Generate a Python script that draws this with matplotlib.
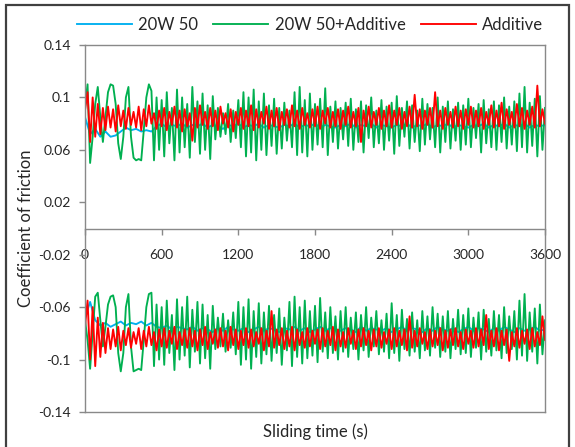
"""Coefficient of friction vs sliding time, 20W 50 oil with and without additive."""

import matplotlib

matplotlib.use("Agg")
import matplotlib.pyplot as plt
import numpy as np
from matplotlib.patches import Rectangle

plt.rcParams["font.family"] = ["Lato", "DejaVu Sans"]

BLUE = "#00b0f0"
GREEN = "#00b050"
RED = "#ff0000"
FRAME = "#898989"
INK = "#262626"

STEP_FINE = 20    # s between samples, green and red series
STEP_COARSE = 40  # s between samples, blue series

SERIES_NAMES = ["20W 50", "20W 50+Additive", "Additive"]
X_TICKS = [0, 600, 1200, 1800, 2400, 3000, 3600]
Y_TICKS = [0.14, 0.10, 0.06, 0.02, -0.02, -0.06, -0.10, -0.14]
Y_TICK_LABELS = ["0.14", "0.1", "0.06", "0.02", "-0.02", "-0.06", "-0.1", "-0.14"]

# upper (positive) traces
GREEN_TOP = [
    .093, .110, .050, .070, .095, .108, .085, .066, .085, .104,
    .110, .109, .095, .065, .053, .070, .100, .108, .070, .054,
    .052, .053, .052, .075, .100, .110, .105, .052, .100, .060,
    .098, .055, .104, .065, .092, .052, .106, .058, .100, .062,
    .095, .054, .108, .066, .097, .057, .103, .060, .094, .053,
    .101, .068, .092, .070, .088, .072, .095, .066, .090, .069,
    .098, .062, .104, .055, .100, .058, .106, .052, .097, .060,
    .103, .056, .094, .063, .099, .057, .092, .061, .096, .067,
    .090, .062, .104, .056, .108, .058, .098, .055, .103, .060,
    .095, .064, .099, .062, .107, .056, .093, .066, .097, .061,
    .092, .068, .096, .063, .099, .060, .091, .066, .097, .058,
    .094, .069, .100, .062, .090, .065, .098, .060, .093, .067,
    .096, .057, .101, .063, .092, .070, .097, .061, .094, .066,
    .090, .059, .099, .064, .095, .068, .092, .062, .100, .058,
    .093, .066, .097, .061, .091, .067, .096, .060, .094, .064,
    .099, .062, .092, .069, .095, .058, .098, .065, .091, .062,
    .097, .060, .094, .066, .100, .061, .093, .064, .097, .059,
    .103, .062, .108, .058, .096, .063, .099, .055, .101, .060,
    .092,
]
RED_TOP = [
    .090, .104, .066, .100, .070, .095, .072, .092, .075, .093,
    .077, .091, .074, .094, .078, .090, .076, .092, .079, .089,
    .077, .093, .075, .091, .078, .094, .080, .088, .076, .090,
    .078, .092, .075, .089, .079, .093, .077, .090, .074, .091,
    .078, .088, .067, .092, .077, .094, .079, .089, .076, .092,
    .078, .090, .075, .093, .080, .088, .077, .091, .074, .089,
    .079, .092, .076, .090, .078, .094, .075, .091, .077, .089,
    .080, .093, .076, .090, .078, .092, .075, .089, .079, .091,
    .077, .094, .078, .090, .076, .092, .079, .088, .077, .091,
    .078, .093, .076, .090, .080, .092, .077, .089, .078, .091,
    .076, .090, .079, .093, .077, .089, .078, .092, .066, .090,
    .078, .093, .077, .089, .079, .092, .076, .090, .078, .094,
    .077, .090, .079, .092, .076, .089, .078, .093, .077, .102,
    .078, .091, .076, .090, .079, .092, .077, .104, .078, .090,
    .076, .092, .079, .089, .077, .093, .078, .090, .076, .091,
    .079, .093, .077, .090, .078, .092, .076, .089, .079, .094,
    .077, .090, .078, .096, .076, .091, .079, .089, .077, .095,
    .078, .092, .076, .090, .079, .093, .077, .109, .078, .091,
    .080,
]
BLUE_TOP = [
    .085, .072, .076, .070, .074, .070, .071, .074, .077, .075,
    .076, .074, .075, .074, .078, .080, .077, .079, .078, .080,
    .077, .079, .078, .080, .077, .079, .078, .076, .079, .078,
    .080, .077, .079, .078, .080, .077, .079, .078, .077, .079,
    .078, .080, .077, .079, .078, .080, .077, .079, .078, .077,
    .079, .078, .080, .077, .079, .078, .080, .077, .079, .078,
    .077, .079, .078, .080, .077, .079, .078, .080, .077, .079,
    .078, .080, .077, .079, .078, .077, .079, .078, .080, .077,
    .079, .078, .080, .077, .079, .078, .080, .077, .079, .078,
    .079,
]

# lower (negative) traces
GREEN_BOTTOM = [
    -.070, -.085, -.107, -.080, -.052, -.049, -.070, -.090, -.075, -.058,
    -.052, -.051, -.060, -.095, -.109, -.095, -.060, -.050, -.090, -.109,
    -.108, -.107, -.108, -.085, -.060, -.050, -.049, -.105, -.058, -.100,
    -.060, -.104, -.055, -.095, -.066, -.108, -.054, -.100, -.060, -.097,
    -.052, -.106, -.062, -.094, -.056, -.103, -.058, -.099, -.066, -.107,
    -.059, -.092, -.068, -.090, -.065, -.094, -.070, -.091, -.064, -.096,
    -.056, -.104, -.060, -.100, -.054, -.107, -.063, -.098, -.057, -.103,
    -.064, -.096, -.059, -.101, -.066, -.095, -.061, -.104, -.068, -.093,
    -.056, -.105, -.052, -.098, -.060, -.103, -.055, -.099, -.063, -.097,
    -.059, -.102, -.053, -.094, -.064, -.099, -.060, -.095, -.067, -.100,
    -.063, -.094, -.060, -.098, -.068, -.092, -.064, -.100, -.066, -.093,
    -.060, -.098, -.068, -.090, -.063, -.096, -.070, -.094, -.065, -.099,
    -.057, -.095, -.066, -.101, -.062, -.092, -.069, -.097, -.064, -.094,
    -.070, -.099, -.063, -.093, -.067, -.097, -.060, -.091, -.065, -.098,
    -.067, -.094, -.063, -.099, -.069, -.092, -.062, -.096, -.066, -.095,
    -.061, -.098, -.068, -.091, -.064, -.100, -.062, -.094, -.069, -.097,
    -.063, -.093, -.066, -.099, -.060, -.095, -.067, -.092, -.063, -.100,
    -.055, -.097, -.050, -.101, -.064, -.094, -.061, -.103, -.058, -.096,
    -.070,
]
RED_BOTTOM = [
    -.075, -.055, -.100, -.060, -.105, -.068, -.098, -.072, -.095, -.076,
    -.092, -.077, -.090, -.075, -.093, -.078, -.089, -.076, -.091, -.079,
    -.088, -.076, -.092, -.078, -.090, -.075, -.089, -.079, -.093, -.077,
    -.090, -.076, -.091, -.078, -.088, -.075, -.092, -.079, -.089, -.077,
    -.091, -.076, -.090, -.078, -.093, -.077, -.089, -.075, -.092, -.079,
    -.088, -.077, -.091, -.076, -.090, -.078, -.093, -.075, -.089, -.077,
    -.092, -.078, -.089, -.076, -.091, -.077, -.090, -.079, -.088, -.076,
    -.093, -.078, -.090, -.063, -.091, -.077, -.089, -.076, -.092, -.078,
    -.090, -.075, -.093, -.077, -.089, -.079, -.091, -.076, -.090, -.078,
    -.088, -.077, -.092, -.076, -.090, -.078, -.089, -.075, -.093, -.077,
    -.090, -.079, -.091, -.076, -.088, -.078, -.092, -.077, -.090, -.076,
    -.089, -.078, -.093, -.077, -.090, -.076, -.091, -.079, -.088, -.077,
    -.092, -.076, -.090, -.078, -.089, -.077, -.093, -.067, -.091, -.078,
    -.090, -.076, -.088, -.079, -.092, -.077, -.090, -.078, -.089, -.076,
    -.093, -.078, -.091, -.077, -.089, -.076, -.090, -.079, -.092, -.077,
    -.088, -.078, -.091, -.076, -.090, -.077, -.089, -.066, -.092, -.078,
    -.090, -.076, -.093, -.078, -.089, -.077, -.101, -.079, -.090, -.076,
    -.091, -.078, -.088, -.077, -.092, -.076, -.090, -.079, -.089, -.067,
    -.085,
]
BLUE_BOTTOM = [
    -.068, -.056, -.070, -.074, -.072, -.075, -.073, -.071, -.074, -.072,
    -.073, -.071, -.074, -.072, -.075, -.076, -.074, -.077, -.075, -.076,
    -.077, -.075, -.078, -.076, -.077, -.079, -.076, -.078, -.075, -.077,
    -.078, -.076, -.079, -.077, -.075, -.078, -.076, -.077, -.079, -.076,
    -.077, -.075, -.078, -.076, -.079, -.077, -.075, -.078, -.076, -.077,
    -.078, -.076, -.077, -.079, -.075, -.078, -.076, -.077, -.078, -.076,
    -.079, -.077, -.075, -.078, -.076, -.077, -.079, -.076, -.078, -.075,
    -.077, -.078, -.076, -.079, -.077, -.075, -.078, -.076, -.077, -.079,
    -.076, -.078, -.075, -.077, -.079, -.076, -.078, -.077, -.075, -.078,
    -.077,
]


def sample_times(values, step):
    return np.arange(len(values)) * step


fig = plt.figure(figsize=(5.75, 4.47), dpi=100)
ax = fig.add_axes([85 / 575, 35 / 447, 460 / 575, 367 / 447])

lw = 1.35
for top, bottom, step, color, name in [
    (BLUE_TOP, BLUE_BOTTOM, STEP_COARSE, BLUE, SERIES_NAMES[0]),
    (GREEN_TOP, GREEN_BOTTOM, STEP_FINE, GREEN, SERIES_NAMES[1]),
    (RED_TOP, RED_BOTTOM, STEP_FINE, RED, SERIES_NAMES[2]),
]:
    ax.plot(sample_times(top, step), top, color=color, lw=lw, label=name)
    ax.plot(sample_times(bottom, step), bottom, color=color, lw=lw)

ax.set_xlim(0, 3600)
ax.set_ylim(-0.14, 0.14)

# x axis crosses at zero, plot area keeps its own grey border
ax.spines["bottom"].set_position(("data", 0))
for side in ("top", "right", "left", "bottom"):
    ax.spines[side].set_color(FRAME)
    ax.spines[side].set_linewidth(1.0)
ax.plot([0, 1], [0, 0], transform=ax.transAxes, color=FRAME, lw=1.0, clip_on=False)

ax.set_xticks(X_TICKS)
ax.set_xticklabels([str(t) for t in X_TICKS])
ax.set_yticks(Y_TICKS)
ax.set_yticklabels(Y_TICK_LABELS)
ax.tick_params(axis="x", direction="out", length=4, width=1, color=FRAME,
               pad=11, labelsize=10, labelcolor=INK)
ax.tick_params(axis="y", direction="out", length=4, width=1, color=FRAME,
               pad=6, labelsize=10, labelcolor=INK)

ax.set_ylabel("Coefficient of friction", fontsize=12, color=INK, labelpad=3)
fig.text(315 / 575, 1 - 432 / 447, "Sliding time (s)", fontsize=12, color=INK,
         ha="center", va="center")

fig.legend(loc="center", bbox_to_anchor=(310 / 575, 1 - 25 / 447), ncol=3,
           frameon=False, fontsize=12, handlelength=3.3, columnspacing=0.9,
           handletextpad=0.4, labelcolor=INK)

fig.patches.append(Rectangle((6 / 575, -0.02), 563 / 575, 1 - 5 / 447 + 0.02,
                             transform=fig.transFigure, fill=False,
                             edgecolor="#404040", lw=1.6))

fig.savefig("out.png", dpi=100)
